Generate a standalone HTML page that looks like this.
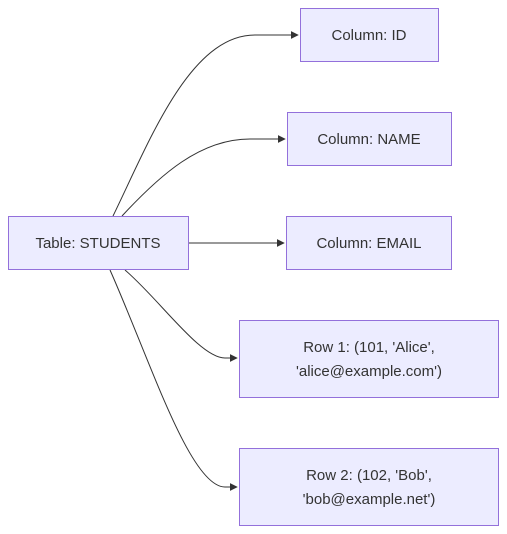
<!DOCTYPE html>
<html><head><meta charset="utf-8"><style>
body{margin:0;background:#fff;}
svg{display:block;}
text{font-family:"Liberation Sans",sans-serif;font-size:15px;fill:#333;text-anchor:middle;}
rect{fill:#ECECFF;stroke:#9370DB;stroke-width:1;}
path{fill:none;stroke:#333;stroke-width:1;}
</style></head><body>
<svg width="507" height="534" viewBox="0 0 507 534">
<defs><marker id="a" viewBox="0 0 10 10" refX="9" refY="5" markerWidth="8" markerHeight="8" orient="auto"><path d="M0,0 L10,5 L0,10 z" style="fill:#333;stroke:none"/></marker></defs>
<path d="M113,216 C150,140 190,35 255,35 L298,35" marker-end="url(#a)"/>
<path d="M122,216 C160,175 200,139 250,139 L285,139" marker-end="url(#a)"/>
<path d="M189,243 L284,243" marker-end="url(#a)"/>
<path d="M125,270 C160,300 200,358 225,358 L237,358" marker-end="url(#a)"/>
<path d="M110,270 C150,360 190,487 225,487 L237,487" marker-end="url(#a)"/>
<rect x="8.5" y="216.5" width="180" height="53"/>
<text x="98" y="248">Table: STUDENTS</text>
<rect x="300.5" y="8.5" width="138" height="53"/>
<text x="369" y="40">Column: ID</text>
<rect x="287.5" y="112.5" width="164" height="53"/>
<text x="369" y="144">Column: NAME</text>
<rect x="286.5" y="216.5" width="165" height="53"/>
<text x="369" y="248">Column: EMAIL</text>
<rect x="239.5" y="320.5" width="259" height="77"/>
<text x="369" y="352">Row 1: (101, 'Alice',</text>
<text x="369" y="376">'alice@example.com')</text>
<rect x="239.5" y="448.5" width="259" height="77"/>
<text x="369" y="480">Row 2: (102, 'Bob',</text>
<text x="369" y="504">'bob@example.net')</text>
</svg>
</body></html>
